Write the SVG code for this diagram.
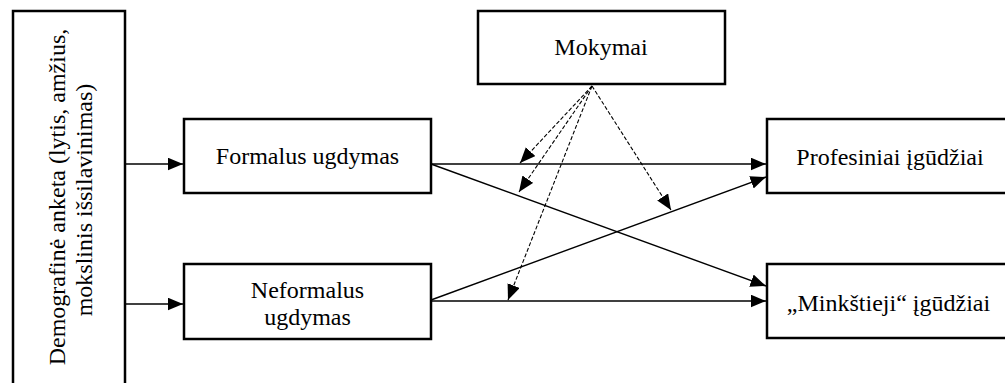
<svg xmlns="http://www.w3.org/2000/svg" width="1005" height="383" viewBox="0 0 1005 383">
  <style>
    .box { fill: #ffffff; stroke: #000000; stroke-width: 2.5; }
    .lbl { font-family: "Liberation Serif", "Times New Roman", serif; font-size: 24px; fill: #000000; text-anchor: middle; }
    .solid { fill: none; stroke: #000000; stroke-width: 1.4; marker-end: url(#arrow); }
    .dash { fill: none; stroke: #000000; stroke-width: 1.1; stroke-dasharray: 4 2; marker-end: url(#arrow); }
  </style>
  <defs>
    <marker id="arrow" markerUnits="userSpaceOnUse" markerWidth="17" markerHeight="14" refX="15.5" refY="6.5" orient="auto">
      <path d="M0,0 L15.5,6.5 L0,13 Z" fill="#000000"/>
    </marker>
  </defs>
  <rect width="1005" height="383" fill="#ffffff"/>

  <g id="demografine">
    <rect class="box" x="13" y="11" width="112" height="400"/>
    <text class="lbl" transform="translate(65,197) rotate(-90)">Demografinė anketa (lytis, amžius,</text>
    <text class="lbl" transform="translate(92,200) rotate(-90)">mokslinis išsilavinimas)</text>
  </g>

  <g id="mokymai">
    <rect class="box" x="478" y="11" width="247" height="73"/>
    <text class="lbl" x="601" y="55">Mokymai</text>
  </g>

  <g id="formalus">
    <rect class="box" x="184" y="119" width="247" height="74"/>
    <text class="lbl" x="307.5" y="164">Formalus ugdymas</text>
  </g>

  <g id="neformalus">
    <rect class="box" x="184" y="264" width="247" height="75"/>
    <text class="lbl" x="307.5" y="298">Neformalus</text>
    <text class="lbl" x="307.5" y="325">ugdymas</text>
  </g>

  <g id="profesiniai">
    <rect class="box" x="767" y="119" width="247" height="74"/>
    <text class="lbl" x="890" y="165">Profesiniai įgūdžiai</text>
  </g>

  <g id="minkstieji">
    <rect class="box" x="767" y="264" width="247" height="74"/>
    <text class="lbl" x="888.5" y="311">„Minkštieji“ įgūdžiai</text>
  </g>

  <g id="connectors">
    <line class="solid" x1="125" y1="164" x2="183" y2="164"/>
    <line class="solid" x1="125" y1="304" x2="183" y2="304"/>
    <line class="solid" x1="431" y1="164" x2="766" y2="164"/>
    <line class="solid" x1="431" y1="164" x2="766" y2="286"/>
    <line class="solid" x1="431" y1="300" x2="766" y2="177"/>
    <line class="solid" x1="431" y1="301" x2="766" y2="301"/>
    <line class="dash" x1="592" y1="86" x2="520" y2="163"/>
    <line class="dash" x1="592" y1="86" x2="519" y2="192"/>
    <line class="dash" x1="592" y1="86" x2="508" y2="300"/>
    <line class="dash" x1="592" y1="86" x2="671" y2="210"/>
  </g>
</svg>
